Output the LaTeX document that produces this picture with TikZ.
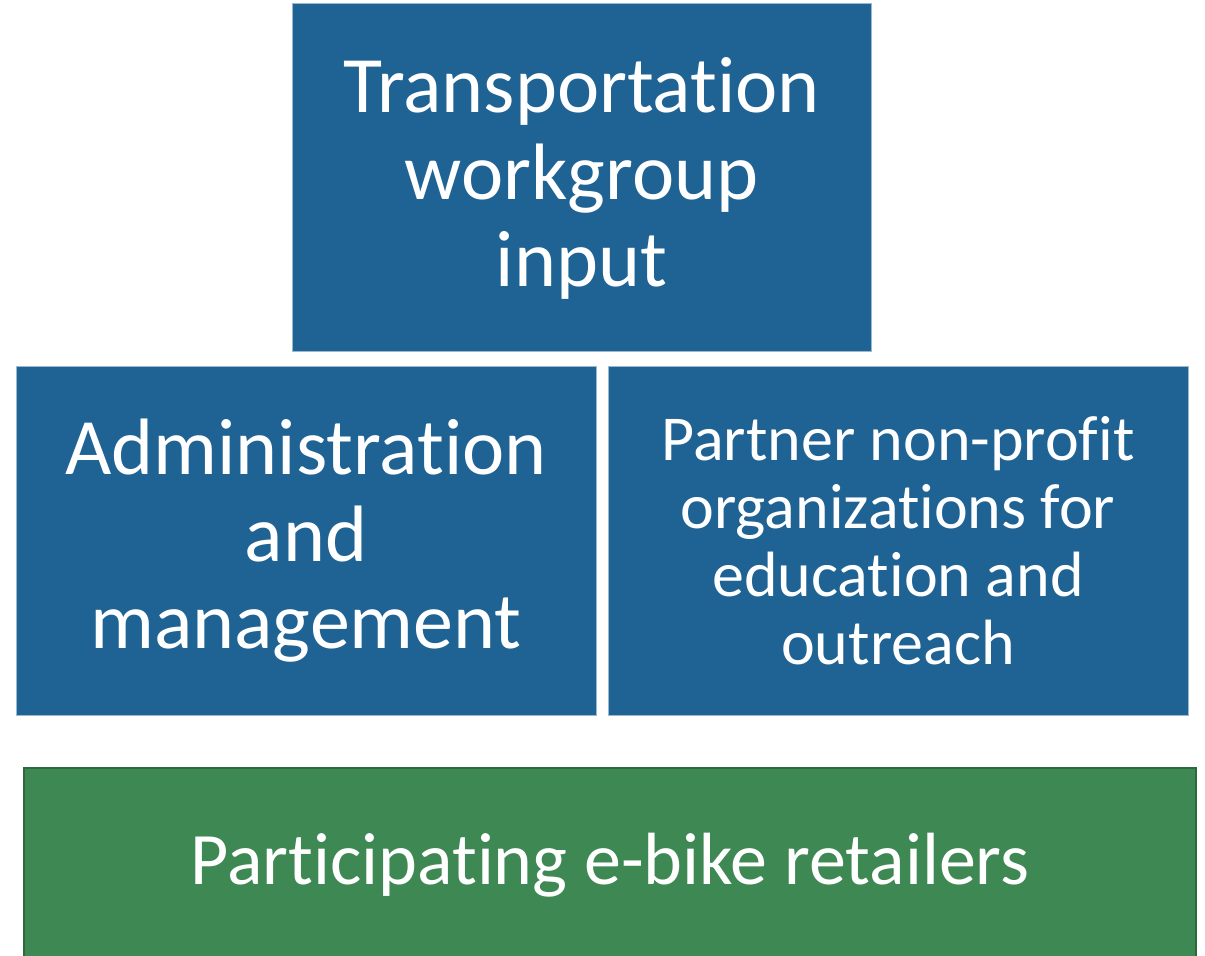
\documentclass[tikz,border=0pt]{standalone}
\usepackage{fontspec}
\setmainfont[Ligatures={NoCommon}]{Carlito}
\usetikzlibrary{positioning}

\definecolor{boxblue}{RGB}{31,99,148}
\definecolor{boxgreen}{RGB}{62,136,83}
\definecolor{edgegreen}{RGB}{44,106,61}

\tikzset{
  bluebox/.style={fill=boxblue, draw=white!55!boxblue, line width=0.5pt,
    text=white, align=center, inner sep=0pt},
  greenbox/.style={fill=boxgreen, draw=edgegreen, line width=1pt,
    text=white, align=center, inner sep=0pt},
  bigtext/.style={font=\fontsize{40pt}{43.5pt}\selectfont},
  smalltext/.style={font=\fontsize{32pt}{34pt}\selectfont}
}

\begin{document}
\begin{tikzpicture}
\useasboundingbox (0,0) rectangle (602.5pt,-478pt);

\node (work) [bluebox, bigtext, minimum width=289.5pt, minimum height=174pt]
  at (290.75pt,-89pt) {Transportation\\workgroup\\input};
\node (admin) [bluebox, bigtext, minimum width=290pt, minimum height=174pt]
  at (153pt,-270.5pt) {Administration\\and\\management};
\node (partner) [bluebox, smalltext, minimum width=290pt, minimum height=174pt]
  at (449pt,-270.5pt)
  {Partner non-profit\\organizations for\\education and\\outreach};

\node (retail) [greenbox, font=\fontsize{37pt}{41pt}\selectfont,
  minimum width=586pt, minimum height=97pt]
  at (305pt,-432.5pt) {\raisebox{-1.5pt}{Participating e-bike retailers}};

\end{tikzpicture}
\end{document}
